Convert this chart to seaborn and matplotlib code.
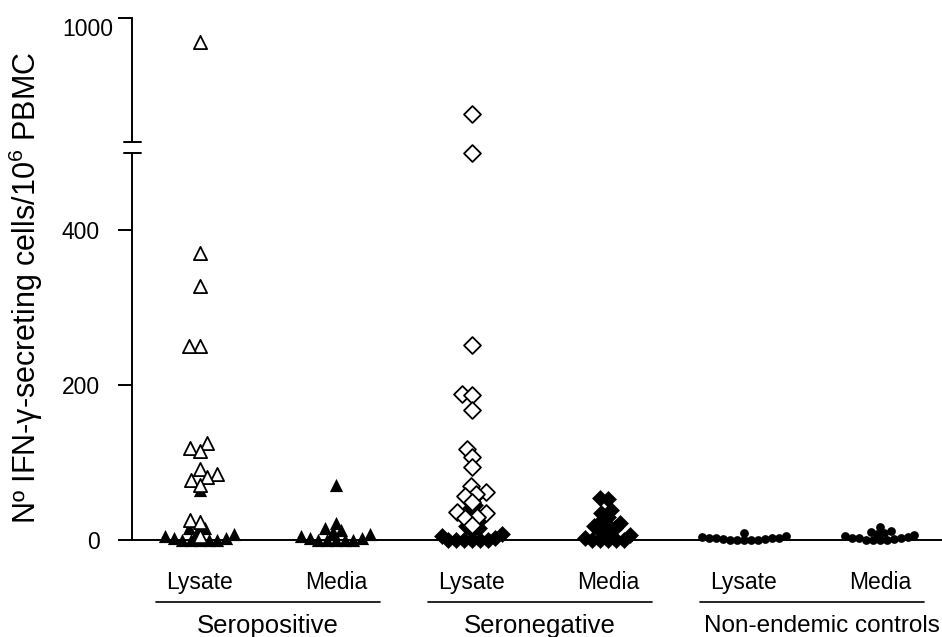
import warnings
import matplotlib
matplotlib.use('Agg')
import matplotlib.pyplot as plt
import pandas as pd
import seaborn as sns

warnings.filterwarnings('ignore')

# columns on the x axis
columns = ['sp_lysate', 'sp_media', 'sn_lysate', 'sn_media', 'ne_lysate', 'ne_media']
tick_labels = ['Lysate', 'Media', 'Lysate', 'Media', 'Lysate', 'Media']
groups = ['Seropositive', 'Seronegative', 'Non-endemic controls']

# N IFN-gamma secreting cells / 10^6 PBMC
sp_lysate_open = [903, 370, 328, 250, 250, 125, 119, 115, 92, 85, 81, 77, 71, 26, 23, 5]
sp_lysate_fill = [65, 15, 15, 10, 8, 5, 3, 2, 0, 0, 0, 0, 0]
sp_media_fill = [71, 22, 15, 13, 10, 8, 5, 3, 2, 0, 0, 0, 0, 0]
sn_lysate_open = [613, 500, 252, 188, 187, 168, 117, 107, 94, 70, 62, 60, 57, 49, 36, 35,
                  30, 28, 20]
sn_lysate_fill = [55, 50, 45, 40, 35, 30, 26, 22, 18, 15, 12, 8, 5, 2, 0, 0, 0, 0, 0, 0]
sn_media_fill = [54, 53, 39, 35, 30, 25, 22, 20, 18, 15, 12, 10, 6, 3, 0, 0, 0, 0, 0]
ne_lysate_fill = [9, 5, 4, 3, 3, 2, 2, 1, 1, 0, 0, 0, 0, 0]
ne_media_fill = [17, 12, 10, 9, 8, 7, 5, 4, 3, 2, 2, 1, 0, 0, 0, 0]

series = [
    ('sp_lysate_fill', 'sp_lysate', sp_lysate_fill),
    ('sp_lysate_open', 'sp_lysate', sp_lysate_open),
    ('sp_media_fill', 'sp_media', sp_media_fill),
    ('sn_lysate_fill', 'sn_lysate', sn_lysate_fill),
    ('sn_lysate_open', 'sn_lysate', sn_lysate_open),
    ('sn_media_fill', 'sn_media', sn_media_fill),
    ('ne_lysate_fill', 'ne_lysate', ne_lysate_fill),
    ('ne_media_fill', 'ne_media', ne_media_fill),
]
df = pd.concat([pd.DataFrame({'series': s, 'col': c, 'value': v}) for s, c, v in series],
               ignore_index=True)

# marker, size used for the swarm layout, size drawn (GraphPad lets points overlap)
tri = dict(marker='^', size=6.0), 9.5
dia = dict(marker='D', size=5.4), 8.6
dot = dict(marker='o', size=4.8), 6.3
filled = dict(color='black', linewidth=0)
hollow = dict(color='white', edgecolor='black', linewidth=1.3)
styles = {
    'sp_lysate_fill': (tri, filled),
    'sp_lysate_open': (tri, hollow),
    'sp_media_fill': (tri, filled),
    'sn_lysate_fill': (dia, filled),
    'sn_lysate_open': (dia, hollow),
    'sn_media_fill': (dia, filled),
    'ne_lysate_fill': (dot, filled),
    'ne_media_fill': (dot, filled),
}

sns.set_style('ticks')
plt.rcParams['font.family'] = ['Liberation Sans', 'DejaVu Sans']
plt.rcParams['mathtext.default'] = 'regular'
for k in ('text.color', 'axes.labelcolor', 'xtick.color', 'ytick.color', 'axes.edgecolor'):
    plt.rcParams[k] = 'black'

W, H = 942, 637
fig = plt.figure(figsize=(W / 100, H / 100), dpi=100)
# lower segment 0-500, upper segment 500-1000 (broken axis)
ax_lo = fig.add_axes([132 / W, 1 - 540 / H, 810 / W, 387.5 / H])
ax_hi = fig.add_axes([132 / W, 1 - 142 / H, 810 / W, 124 / H])

draw_sizes = []
for key, d in df.groupby('series', sort=False):
    (shape, big), look = styles[key]
    for ax, part in ((ax_lo, d[d['value'] <= 500]), (ax_hi, d[d['value'] > 500])):
        if len(part):
            n_before = len(ax.collections)
            sns.swarmplot(data=part, x='col', y='value', order=columns, ax=ax,
                          clip_on=False, zorder=3, **shape, **look)
            for coll in ax.collections[n_before:]:
                draw_sizes.append((coll, big))

xlim = (-0.5, 5.456)
lw = 1.4
for ax in (ax_lo, ax_hi):
    ax.set_xlim(*xlim)
    ax.set_xlabel('')
    ax.set_ylabel('')
    ax.spines['top'].set_visible(False)
    ax.spines['right'].set_visible(False)
    ax.spines['left'].set_linewidth(lw)
    ax.tick_params(axis='y', length=10, width=lw, labelsize=16.5, color='black')

ax_lo.set_ylim(0, 500)
ax_lo.set_yticks([0, 200, 400])
ax_lo.tick_params(axis='y', pad=13)
ax_lo.spines['bottom'].set_linewidth(lw)
ax_lo.set_xticks(range(len(columns)))
ax_lo.set_xticklabels(tick_labels, fontsize=16.5)
ax_lo.tick_params(axis='x', length=0, pad=22)

ax_hi.set_ylim(500, 1000)
ax_hi.set_yticks([1000])
ax_hi.tick_params(axis='y', pad=3.5)
for lab in ax_hi.get_yticklabels():
    lab.set_va('top')
ax_hi.spines['bottom'].set_visible(False)
ax_hi.set_xticks([])
ax_hi.patch.set_alpha(0)
ax_lo.patch.set_alpha(0)

# break marks
ax_lo.plot([-0.0099, 0.0111], [1, 1], transform=ax_lo.transAxes, color='black',
           lw=lw, clip_on=False)
ax_hi.plot([-0.0099, 0.0111], [0, 0], transform=ax_hi.transAxes, color='black',
           lw=lw, clip_on=False)

# group underlines and names
trans = ax_lo.get_xaxis_transform()
for i, name in enumerate(groups):
    c = 2 * i + 0.5
    ax_lo.plot([c - 0.82, c + 0.82], [-0.16, -0.16], transform=trans, color='black',
               lw=1.2, clip_on=False)
    size = 17.5 if i == 2 else 18.5
    ax_lo.text(c + (0.0 if i < 2 else 0.07), -0.222, name, transform=trans,
               ha='center', va='center', fontsize=size)

fig.text(26 / W, 1 - 288 / H, 'Nº IFN-γ-secreting cells/10$^{6}$ PBMC',
         rotation=90, ha='center', va='center', fontsize=22)

# let seaborn lay out the swarms once, then freeze them and draw bigger markers
fig.canvas.draw()
for coll, big in draw_sizes:
    if 'draw' in coll.__dict__:
        del coll.draw
    coll.set_sizes([big ** 2])

fig.savefig('out.png', dpi=100)
